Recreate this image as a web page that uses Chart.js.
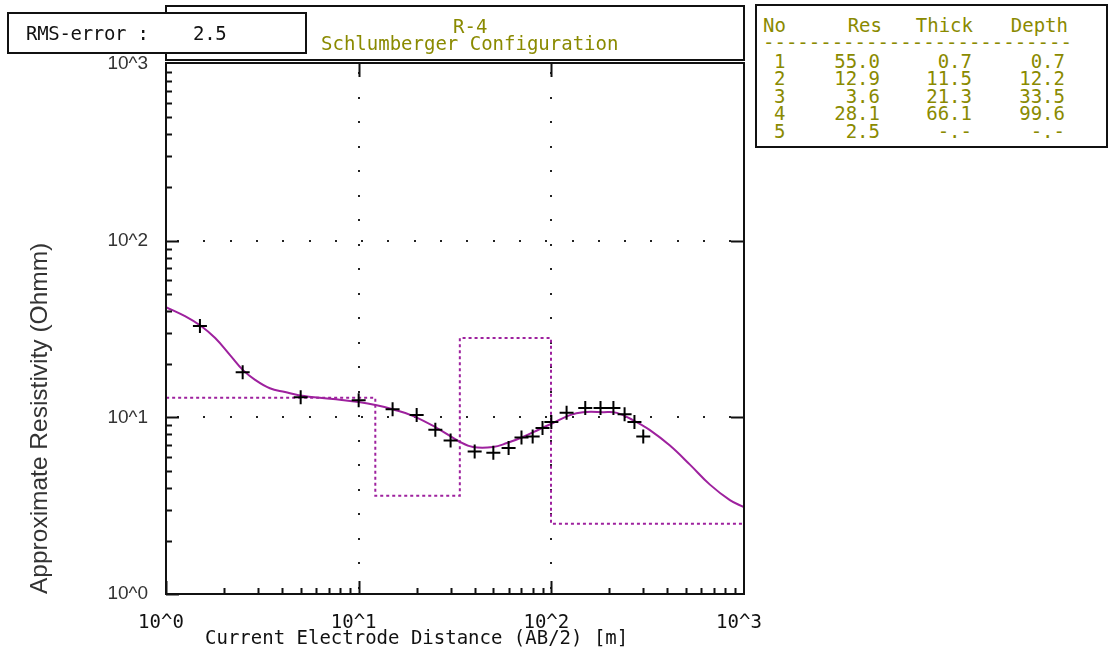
<!DOCTYPE html>
<html>
<head>
<meta charset="utf-8">
<script src="https://cdn.jsdelivr.net/npm/chart.js@4.4.0/dist/chart.umd.min.js"></script>
<style>
  html, body { margin: 0; padding: 0; background: #fff; }
  #wrap { position: relative; width: 1109px; height: 656px; overflow: hidden; }
  #chart { position: absolute; left: 0; top: 0; }
  .box { position: absolute; border: 2px solid #111; background: #fff; box-sizing: border-box; }
  .mono { position: absolute; font-family: "DejaVu Sans Mono", monospace; font-size: 19px;
          line-height: 19px; white-space: pre; }
  .olive { color: #8a8a00; }
  .ink { color: #111; }
</style>
</head>
<body>
<div id="wrap">
  <canvas id="chart" width="1109" height="656"></canvas>
  <div class="box" style="left:165px;top:5px;width:580px;height:56px;"></div>
  <div class="box" style="left:7px;top:12px;width:300px;height:42px;"></div>
  <div class="box" style="left:755px;top:4px;width:353px;height:144px;"></div>
  <div id="overlay"></div>
</div>
<script>
// ---- sounding data ----
const sondeName = 'R-4';
const arrayName = 'Schlumberger Configuration';
const rmsError = 2.5;

// measured apparent resistivity vs AB/2
const spacing = [1.5, 2.5, 5, 10, 15, 20, 25, 30, 40, 50, 60, 70, 80, 90, 100, 120, 150, 180, 210, 240, 270, 300];
const apparentRes = [32.9, 18.0, 13.0, 12.5, 11.1, 10.3, 8.5, 7.4, 6.4, 6.3, 6.7, 7.7, 7.8, 8.7, 9.4, 10.6, 11.3, 11.3, 11.3, 10.4, 9.4, 7.8];

// computed response of the layered model
const modelAB = [1, 1.255, 1.52, 1.8, 2.15, 2.51, 2.9, 3.46, 4.15, 4.96, 7.36, 10, 12.4, 15, 19.1, 25.5, 33.6, 39.2, 49.8, 58.8, 71.2, 87.3, 101.9, 124.9, 145.9, 185.3, 218.9, 265, 324.9, 412.6, 524, 665.5, 845, 1000];
const modelRho = [42.1, 37.4, 32.9, 28.1, 22.5, 18.5, 16.3, 14.6, 13.9, 13.3, 12.7, 12.2, 11.7, 11.1, 10.2, 8.70, 7.25, 6.79, 6.79, 7.15, 7.74, 8.59, 9.28, 10.3, 10.7, 10.7, 10.6, 9.65, 8.47, 6.92, 5.40, 4.16, 3.40, 3.10];

// layer table
const layerNo = [1, 2, 3, 4, 5];
const layerRes = [55.0, 12.9, 3.6, 28.1, 2.5];
const layerThick = [0.7, 11.5, 21.3, 66.1, null];
const layerDepth = [0.7, 12.2, 33.5, 99.6, null];

// axes
const axisMin = 1, axisMax = 1000;
const decadeLabels = { 1: '10^0', 10: '10^1', 100: '10^2', 1000: '10^3' };
const xTitle = 'Current Electrode Distance (AB/2) [m]';
const yTitle = 'Approximate Resistivity (Ohmm)';

const purple = '#9e219e';

// ---- text blocks around the plot ----
const overlay = document.getElementById('overlay');
function addText(txt, x, cy, cls, alignRight) {
  const d = document.createElement('div');
  d.className = 'mono ' + cls;
  d.textContent = txt;
  d.style.top = (cy - 9.5) + 'px';
  if (alignRight) { d.style.right = (1109 - x) + 'px'; d.style.textAlign = 'right'; }
  else d.style.left = x + 'px';
  overlay.appendChild(d);
  return d;
}
addText('RMS-error :    ' + rmsError.toFixed(1), 26, 33, 'ink').style.letterSpacing = '-0.3px';
addText(sondeName, 453, 26, 'olive');
addText(arrayName, 321, 43, 'olive');
addText(xTitle, 205, 637, 'ink');

// layer table
const fmt = v => (v === null ? '-.-' : v.toFixed(1));
addText('No', 763, 25, 'olive');
addText('Res', 882, 25, 'olive', true);
addText('Thick', 973, 25, 'olive', true);
addText('Depth', 1068, 25, 'olive', true);
addText('-'.repeat(27), 763, 42, 'olive');
const rowY = [61, 78.5, 96, 113.5, 131];
layerNo.forEach((n, i) => {
  addText(String(n), 774, rowY[i], 'olive');
  addText(fmt(layerRes[i]), 880, rowY[i], 'olive', true);
  addText(fmt(layerThick[i]), 972, rowY[i], 'olive', true);
  addText(fmt(layerDepth[i]), 1065, rowY[i], 'olive', true);
});

// ---- chart data ----
const measuredPts = spacing.map((s, i) => ({ x: s, y: apparentRes[i] }));
const modelPts = modelAB.map((s, i) => ({ x: s, y: modelRho[i] }));
// layered model as a step line: each layer spans from the previous depth to its own depth
const stepPts = [];
let layerTop = 0.1;
layerRes.forEach((r, i) => {
  const layerBottom = layerDepth[i] === null ? axisMax : layerDepth[i];
  stepPts.push({ x: layerTop, y: r }, { x: layerBottom, y: r });
  layerTop = layerBottom;
});

function decadeLabel(v) {
  const e = Math.log10(v);
  return Math.abs(e - Math.round(e)) < 1e-9 ? (decadeLabels[Math.round(v)] || '') : '';
}

// frame, log ticks and dotted decade grid
const framePlugin = {
  id: 'frame',
  beforeDatasetsDraw(chart) {
    const { ctx, chartArea: a, scales: { x, y } } = chart;
    ctx.save();
    ctx.fillStyle = '#222';
    [10, 100].forEach(v => {
      const px = Math.round(x.getPixelForValue(v));
      for (let py = a.top + 9; py < a.bottom - 4; py += 24.5) ctx.fillRect(px - 1, Math.round(py) - 1, 2, 2);
    });
    [10, 100].forEach(v => {
      const py = Math.round(y.getPixelForValue(v));
      for (let px = a.left + 12; px < a.right - 4; px += 26.3) ctx.fillRect(Math.round(px) - 1, py - 1, 2, 2);
    });
    ctx.restore();
  },
  afterDatasetsDraw(chart) {
    const { ctx, chartArea: a, scales: { x, y } } = chart;
    ctx.save();
    ctx.strokeStyle = '#111';
    ctx.lineWidth = 2;
    ctx.strokeRect(a.left, a.top - 1, a.right - a.left, a.bottom - a.top + 1);
    ctx.beginPath();
    for (let d = 1; d < 1000; d *= 10) {
      for (let m = 1; m <= 9; m++) {
        const v = d * m;
        const major = m === 1;
        const len = major ? 13 : 6;
        const py = Math.round(y.getPixelForValue(v)) + 0.5;
        const px = Math.round(x.getPixelForValue(v)) + 0.5;
        // left and bottom axes carry all ticks
        ctx.moveTo(a.left, py); ctx.lineTo(a.left + len, py);
        ctx.moveTo(px, a.bottom); ctx.lineTo(px, a.bottom - len);
        if (major && d > 1) {
          ctx.moveTo(a.right, py); ctx.lineTo(a.right - len, py);
          ctx.moveTo(px, a.top); ctx.lineTo(px, a.top + len);
        }
      }
    }
    ctx.stroke();
    ctx.restore();
  }
};

new Chart(document.getElementById('chart'), {
  type: 'scatter',
  data: {
    datasets: [
      {
        label: 'Measured',
        data: measuredPts,
        pointStyle: 'cross',
        pointRadius: 7,
        pointBorderWidth: 2,
        borderColor: '#000',
        backgroundColor: '#000',
        showLine: false
      },
      {
        label: 'Model response',
        data: modelPts,
        showLine: true,
        borderColor: purple,
        borderWidth: 2,
        pointRadius: 0,
        tension: 0.4
      },
      {
        label: 'Layers',
        data: stepPts,
        showLine: true,
        borderColor: purple,
        borderWidth: 2,
        borderDash: [3, 3],
        pointRadius: 0
      }
    ]
  },
  options: {
    responsive: false,
    animation: false,
    layout: { padding: { left: 0, top: 64, right: 365, bottom: 0 } },
    plugins: { legend: { display: false }, tooltip: { enabled: false } },
    scales: {
      x: {
        type: 'logarithmic',
        position: 'bottom',
        min: axisMin,
        max: axisMax,
        afterFit(s) { s.height = 62; },
        grid: { display: false, drawTicks: false },
        border: { display: false },
        ticks: {
          autoSkip: false,
          maxRotation: 0,
          padding: 18,
          labelOffset: -5,
          color: '#111',
          font: { family: 'DejaVu Sans Mono', size: 19 },
          callback: v => decadeLabel(v)
        }
      },
      y: {
        type: 'logarithmic',
        position: 'left',
        min: axisMin,
        max: axisMax,
        afterFit(s) { s.width = 166; },
        grid: { display: false, drawTicks: false },
        border: { display: false },
        ticks: {
          autoSkip: false,
          padding: 18,
          color: '#333',
          font: { family: 'Liberation Sans', size: 19 },
          callback: v => decadeLabel(v)
        },
        title: {
          display: true,
          text: yTitle,
          align: 'start',
          color: '#333',
          font: { family: 'Liberation Sans', size: 24.5 },
          padding: { top: 26, bottom: 0 }
        }
      }
    }
  },
  plugins: [framePlugin]
});
</script>
</body>
</html>
